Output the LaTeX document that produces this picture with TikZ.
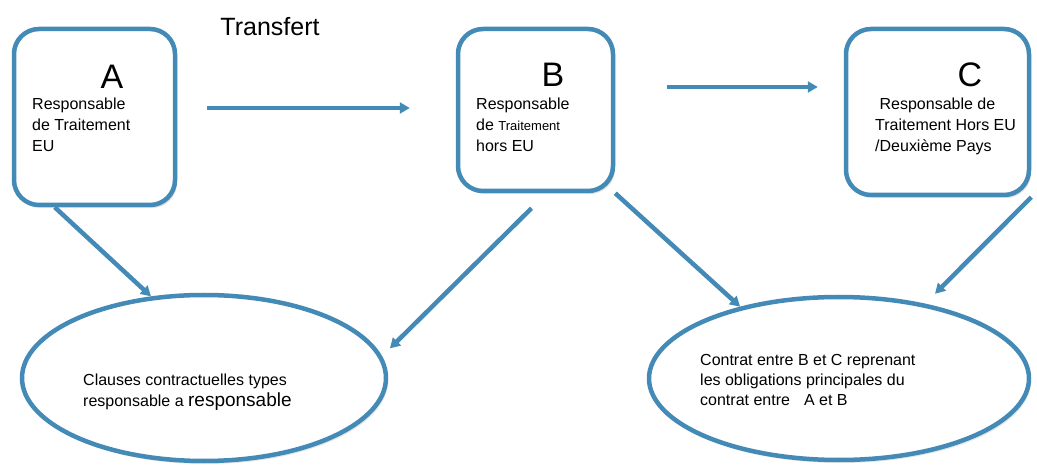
\documentclass[tikz,border=0pt]{standalone}
\usepackage{fontspec}
\setmainfont{Liberation Sans}
\usetikzlibrary{shapes.geometric,arrows.meta,shadows}
\definecolor{rtblue}{RGB}{68,138,183}

\begin{document}
\begin{tikzpicture}[x=1pt,y=-1pt,
    actor/.style={draw=rtblue,line width=4.5pt,rounded corners=25pt,fill=white,
      drop shadow={opacity=0.25,shadow xshift=2pt,shadow yshift=-3pt}},
    clause/.style={ellipse,draw=rtblue,line width=4.5pt,fill=white,inner sep=0pt,
      drop shadow={opacity=0.2,shadow xshift=2pt,shadow yshift=-3pt}},
    arr/.style={draw=rtblue,line width=4.5pt,-{Triangle[length=10pt,width=11pt]}},
    letter/.style={font=\fontsize{34}{34}\selectfont,inner sep=0pt},
    txt/.style={font=\fontsize{16}{21}\selectfont,align=left,anchor=north west,inner sep=0pt}]
  \useasboundingbox (0,0) rectangle (1037,465);

  % les trois responsables
  \node (A) at (94.5,117) [actor,minimum width=161,minimum height=176] {};
  \node (B) at (535.5,110) [actor,minimum width=155,minimum height=162] {};
  \node (C) at (937.5,112) [actor,minimum width=183,minimum height=166] {};

  \node (la) at (112,77) [letter] {A};
  \node (ta) at (32,98) [txt] {Responsable\\de Traitement\\EU};
  \node (lb) at (553,75) [letter] {B};
  \node (tb) at (476,98) [txt] {Responsable\\de {\fontsize{13}{21}\selectfont Traitement}\\hors EU};
  \node (lc) at (970,75) [letter] {C};
  \node (tc) at (875,98) [txt] {\ Responsable de\\Traitement Hors EU\\/Deuxième Pays};

  \node (tr) at (270,27) {\fontsize{25}{25}\selectfont Transfert};

  % les contrats
  \node (E1) at (204,378) [clause,minimum width=364,minimum height=166] {};
  \node (E2) at (839,378.5) [clause,minimum width=380,minimum height=163] {};

  \node (te1) at (83,374) [txt] {Clauses contractuelles types\\responsable a {\fontsize{19}{21}\selectfont responsable}};
  \node (te2) at (700,354) [txt,font=\fontsize{16}{20}\selectfont] {Contrat entre B et C reprenant\\les obligations principales du\\contrat entre\hspace{14pt}A et B};

  % transferts
  \draw[arr,shorten <=30pt,shorten >=46pt] (A.east |- 0,108) -- (B.west |- 0,108);
  \draw[arr,shorten <=52pt,shorten >=26pt] (B.east |- 0,87) -- (C.west |- 0,87);

  \draw[arr] ([xshift=43pt]A.south west) -- (E1.123);
  \draw[arr,shorten >=11pt] ([xshift=-4pt,yshift=-15pt]B.south) -- (E1.7);
  \draw[arr] (B.south east) -- (E2.144);
  \draw[arr,shorten >=14pt] (C.south east) -- (E2.41);
\end{tikzpicture}
\end{document}
